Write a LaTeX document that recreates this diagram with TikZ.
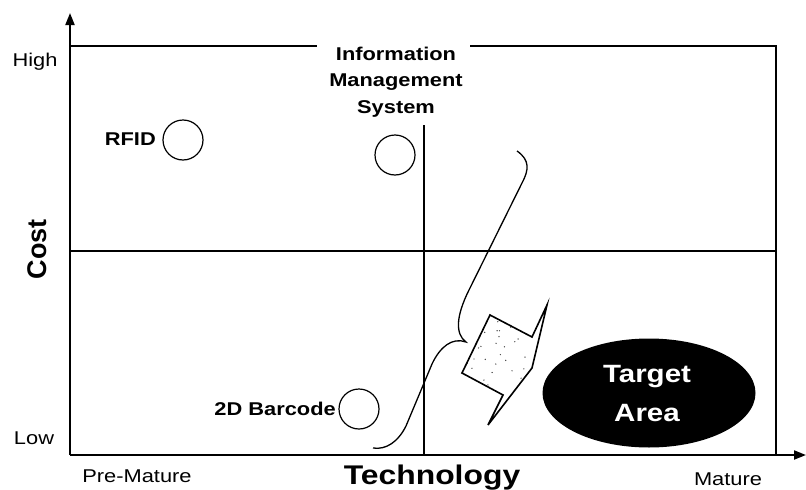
\documentclass[tikz,border=0pt]{standalone}
\usepackage{fontspec}
\setmainfont{Liberation Sans}
\usetikzlibrary{arrows.meta,shapes.geometric}
\newcommand{\widetxt}[1]{\scalebox{1.18}[1]{#1}}
\tikzset{
  lbl/.style={font=\fontsize{18.5}{22}\selectfont, inner sep=0pt},
  blbl/.style={font=\fontsize{18.5}{26.5}\selectfont\bfseries, inner sep=0pt, align=center},
  tech/.style={circle, draw, line width=1.2pt, minimum size=40pt, inner sep=0pt},
  thin/.style={line width=1.3pt},
  axis/.style={line width=2pt, -{Triangle[length=12pt,width=9pt]}},
}
\begin{document}
\begin{tikzpicture}[x=1pt,y=-1pt]
\useasboundingbox (0,0) rectangle (806,490);
% axes
\coordinate (O) at (70,455);
\coordinate (ytop) at (70,13);
\coordinate (xend) at (806,455);
\draw[axis] (O) -- (ytop);
\draw[axis] (O) -- (xend);
% box
\coordinate (tl) at (70,46);
\coordinate (g1) at (317,46);
\coordinate (g2) at (470,46);
\coordinate (tr) at (776,46);
\coordinate (br) at (776,455);
\draw[line width=1.6pt] (tl) -- (g1);
\draw[line width=1.6pt] (g2) -- (tr) -- (br);
\coordinate (ml) at (70,251);
\coordinate (mr) at (776,251);
\draw[thin] (ml) -- (mr);
\coordinate (vt) at (424,125);
\coordinate (vb) at (424,455);
\draw[thin] (vt) -- (vb);
% labels
\node[lbl] (high) at (35,62) {\widetxt{High}};
\node[lbl] (low) at (34,438) {\widetxt{Low}};
\node[lbl] (pre) at (137,476) {\widetxt{Pre-Mature}};
\node[lbl] (mat) at (728,479) {\widetxt{Mature}};
\node[font=\fontsize{27}{30}\selectfont\bfseries, rotate=90, inner sep=0pt] (cost) at (37,249) {Cost};
\node[font=\fontsize{27}{30}\selectfont\bfseries, inner sep=0pt, anchor=base] (techn) at (432,484) {\widetxt{Technology}};
% circles
\node[tech] (rfid) at (183,140) {};
\node[blbl, anchor=east] (rfidl) at (156,139) {\widetxt{RFID}};
\node[tech] (ims) at (395,155) {};
\node[blbl] (imsl) at (396,82) {\widetxt{Information}\\\widetxt{Management}\\\widetxt{System}};
\node[tech] (bar) at (359,409) {};
\node[blbl, anchor=east] (barl) at (336,409) {\widetxt{2D Barcode}};
% target
\node[ellipse, fill=black, minimum width=213pt, minimum height=109pt, inner sep=0pt] (target) at (649,393) {};
\node[text=white, font=\fontsize{25}{39}\selectfont\bfseries, align=center, inner sep=0pt] (targetl) at (647,394) {\widetxt{Target}\\\widetxt{Area}};
% brace
\coordinate (b1) at (517,151);
\coordinate (bc) at (466,342);
\coordinate (b2) at (373,448);
\draw[thin] (b1) .. controls (530,160) and (529,170) .. (522,183) -- (469,290)
  .. controls (456,316) and (455,334) .. (bc)
  .. controls (452,337) and (440,347) .. (432,364) -- (406,426)
  .. controls (398,442) and (386,450) .. (b2);
% arrow shape
\coordinate (s1) at (490,315);
\coordinate (s2) at (532,337);
\coordinate (s3) at (547,305);
\coordinate (s4) at (532,368);
\coordinate (s5) at (488,425);
\coordinate (s6) at (503,395);
\coordinate (s7) at (462,373);
\begin{scope}
\clip (s1) -- (s2) -- (s3) -- (s4) -- (s5) -- (s6) -- (s7) -- cycle;
\pgfmathsetseed{7}
\foreach \i in {1,...,90} {
  \pgfmathsetmacro{\px}{460+90*rnd}
  \pgfmathsetmacro{\py}{300+125*rnd}
  \fill[black!75] (\px,\py) circle (0.7pt);
}
\end{scope}
\draw[line width=1.6pt, line join=miter] (s1) -- (s2) -- (s3) -- (s4) -- (s5) -- (s6) -- (s7) -- cycle;
\end{tikzpicture}
\end{document}
